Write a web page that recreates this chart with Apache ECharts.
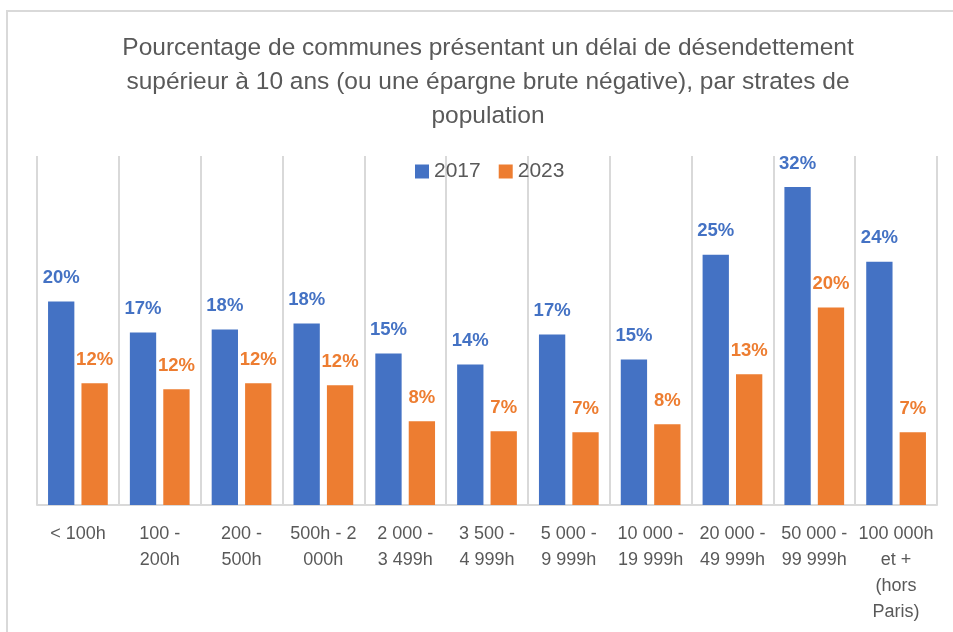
<!DOCTYPE html>
<html>
<head>
<meta charset="utf-8">
<script src="https://cdn.jsdelivr.net/npm/echarts@6/dist/echarts.min.js"></script>
<style>
html,body{margin:0;padding:0;background:#fff;}
#chart{width:953px;height:632px;}
</style>
</head>
<body>
<div id="chart"></div>
<script>
const titleText = "Pourcentage de communes présentant un délai de désendettement\nsupérieur à 10 ans (ou une épargne brute négative), par strates de\npopulation";
const categories = ["< 100h", "100 -\n200h", "200 -\n500h", "500h - 2\n000h", "2 000 -\n3 499h", "3 500 -\n4 999h", "5 000 -\n9 999h", "10 000 -\n19 999h", "20 000 -\n49 999h", "50 000 -\n99 999h", "100 000h\net +\n(hors\nParis)"];
const seriesNames = ["2017", "2023"];
const values2017 = [20.4, 17.3, 17.6, 18.2, 15.2, 14.1, 17.1, 14.6, 25.1, 31.9, 24.4];
const values2023 = [12.2, 11.6, 12.2, 12.0, 8.4, 7.4, 7.3, 8.1, 13.1, 19.8, 7.3];
const colors = ["#4472C4", "#ED7D31"];

const FONT = "Liberation Sans";
const chart = echarts.init(document.getElementById('chart'), null, {renderer: 'canvas'});

function barSeries(name, data, color) {
  return {
    name: name,
    type: 'bar',
    data: data,
    barGap: '27%',
    barCategoryGap: '27%',
    itemStyle: {color: color},
    label: {
      show: true,
      position: 'top',
      distance: 14,
      color: color,
      fontFamily: FONT,
      fontWeight: 'bold',
      fontSize: 18.5,
      formatter: p => Math.round(p.value) + '%'
    }
  };
}

chart.setOption({
  backgroundColor: '#ffffff',
  animation: false,
  color: colors,
  title: {
    text: titleText,
    left: 483,
    top: 26,
    textAlign: 'center',
    textStyle: {
      fontFamily: FONT,
      fontSize: 24.5,
      fontWeight: 'normal',
      color: '#595959',
      lineHeight: 34
    }
  },
  legend: {
    data: seriesNames,
    left: 410,
    top: 156,
    icon: 'rect',
    itemWidth: 14,
    itemHeight: 14,
    itemGap: 18,
    textStyle: {fontFamily: FONT, fontSize: 21, color: '#595959'}
  },
  grid: {left: 37, right: 16, top: 156, bottom: 127, containLabel: false},
  xAxis: {
    type: 'category',
    data: categories,
    axisLine: {lineStyle: {color: '#D9D9D9', width: 2}},
    axisTick: {show: false},
    splitLine: {show: true, lineStyle: {color: '#D9D9D9', width: 2}},
    axisLabel: {
      interval: 0,
      margin: 16,
      fontFamily: FONT,
      fontSize: 18,
      lineHeight: 26,
      color: '#595959'
    }
  },
  yAxis: {
    type: 'value',
    min: 0,
    max: 35,
    interval: 5,
    show: false,
    splitLine: {show: false}
  },
  graphic: [{
    type: 'rect',
    silent: true,
    shape: {x: 7, y: 11, width: 1000, height: 700},
    style: {fill: 'none', stroke: '#D9D9D9', lineWidth: 2}
  }],
  series: [
    barSeries(seriesNames[0], values2017, colors[0]),
    barSeries(seriesNames[1], values2023, colors[1])
  ]
});
</script>
</body>
</html>
